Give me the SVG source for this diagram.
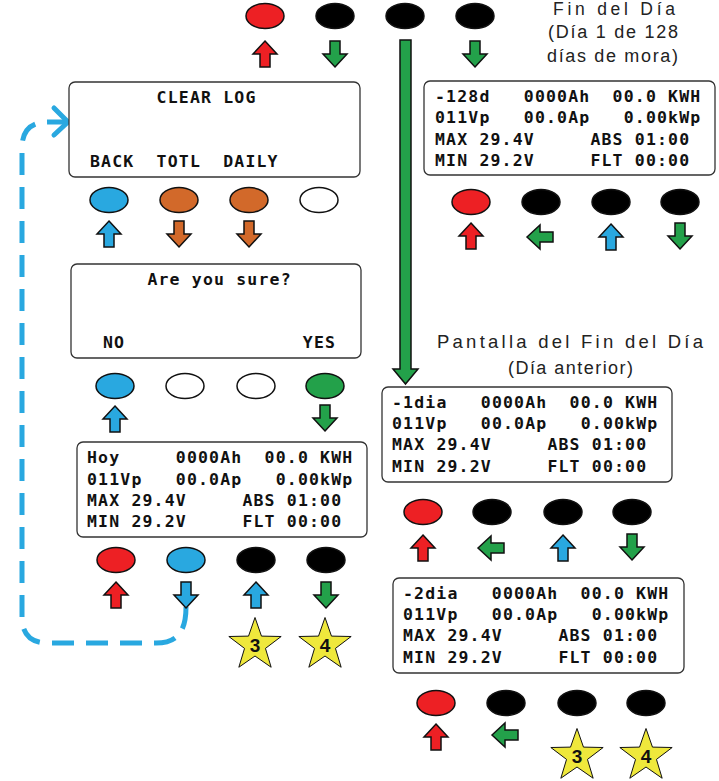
<svg xmlns="http://www.w3.org/2000/svg" xmlns:xlink="http://www.w3.org/1999/xlink" width="719" height="781" viewBox="0 0 719 781">
<style>
.lcd{fill:#fff;stroke:#333;stroke-width:1.3}
.t{font-family:"DejaVu Sans Mono","Liberation Mono",monospace;font-weight:bold;font-size:16.5px;letter-spacing:1.17px;fill:#111}
.lbl{font-family:"Liberation Sans",Arial,sans-serif;fill:#222}
.btn{stroke:#111;stroke-width:1.5}
.ar{stroke:#111;stroke-width:1.5;stroke-linejoin:miter}
.red{fill:#ED2024}.blk{fill:#000}.blu{fill:#29A8E0}.grn{fill:#23A14A}.org{fill:#D2692A}.wht{fill:#fff}
.star{fill:#EFE83C;stroke:#111;stroke-width:1}
.num{font-family:"Liberation Sans",Arial,sans-serif;font-weight:bold;font-size:19px;text-anchor:middle;fill:#111}
</style>
<defs>
<path id="up" d="M0,-13 L12,0 L5,0 L5,13 L-5,13 L-5,0 L-12,0 Z"/>
<path id="dn" d="M0,13 L12,0 L5,0 L5,-13 L-5,-13 L-5,0 L-12,0 Z"/>
<path id="lf" d="M-13,0 L0,-12 L0,-5 L13,-5 L13,5 L0,5 L0,12 Z"/>
<polygon id="star" points="0,-27.5 6.47,-8.9 26.16,-8.5 10.46,3.4 16.16,22.25 0,11 -16.16,22.25 -10.46,3.4 -26.16,-8.5 -6.47,-8.9"/>
</defs>

<g id="connectors">
<path d="M186,607 C186,633 176,643 156,643 L48,643 Q22,643 22,617 L22,148 Q22,122 48,122 L67,122" fill="none" stroke="#29A8E0" stroke-width="5" stroke-dasharray="22 12"/>
<polyline points="54,108 68,122 54,135" fill="none" stroke="#29A8E0" stroke-width="5" stroke-linecap="round" stroke-linejoin="round"/>
<path d="M400,40 L411,40 L411,369 L418,369 L405.5,384 L393,369 L400,369 Z" fill="#23A14A" stroke="#111" stroke-width="1.5"/>
</g>

<g id="top-buttons">
<ellipse class="btn red" cx="265" cy="16" rx="19" ry="12.5"/>
<ellipse class="btn blk" cx="335" cy="16" rx="19" ry="12.5"/>
<ellipse class="btn blk" cx="405" cy="16" rx="19" ry="12.5"/>
<ellipse class="btn blk" cx="475" cy="16" rx="19" ry="12.5"/>
<use href="#up" class="ar red" x="265" y="54"/>
<use href="#dn" class="ar grn" x="335" y="54"/>
<use href="#dn" class="ar grn" x="475" y="54"/>
</g>

<g id="label-top">
<text class="lbl" x="553" y="15" font-size="17.5" textLength="122" lengthAdjust="spacing">Fin del Día</text>
<text class="lbl" x="548" y="38" font-size="18" textLength="130" lengthAdjust="spacing">(Día 1 de 128</text>
<text class="lbl" x="547" y="62" font-size="18" textLength="131" lengthAdjust="spacing">días de mora)</text>
</g>

<g id="label-mid">
<text class="lbl" x="437" y="348" font-size="18.5" textLength="266" lengthAdjust="spacing">Pantalla del Fin del Día</text>
<text class="lbl" x="508" y="374" font-size="18" textLength="125" lengthAdjust="spacing">(Día anterior)</text>
</g>

<g id="clear-log">
<rect class="lcd" x="69" y="82" width="291" height="95" rx="6"/>
<text class="t" y="103"><tspan x="156.6">CLEAR LOG</tspan></text>
<text class="t" y="167"><tspan x="90">BACK</tspan><tspan x="156.6">TOTL</tspan><tspan x="223.2">DAILY</tspan></text>
<ellipse class="btn blu" cx="109" cy="200" rx="19" ry="12.5"/>
<ellipse class="btn org" cx="179" cy="200" rx="19" ry="12.5"/>
<ellipse class="btn org" cx="249" cy="200" rx="19" ry="12.5"/>
<ellipse class="btn wht" cx="319" cy="200" rx="19" ry="12.5"/>
<use href="#up" class="ar blu" x="109" y="234"/>
<use href="#dn" class="ar org" x="179" y="234"/>
<use href="#dn" class="ar org" x="249" y="234"/>
</g>

<g id="are-you-sure">
<rect class="lcd" x="71" y="264" width="290" height="94" rx="6"/>
<text class="t" y="285"><tspan x="147.4">Are you sure?</tspan></text>
<text class="t" y="348"><tspan x="103">NO</tspan><tspan x="302.8">YES</tspan></text>
<ellipse class="btn blu" cx="115" cy="386" rx="19" ry="12.5"/>
<ellipse class="btn wht" cx="185" cy="386" rx="19" ry="12.5"/>
<ellipse class="btn wht" cx="256" cy="386" rx="19" ry="12.5"/>
<ellipse class="btn grn" cx="325" cy="386" rx="19" ry="12.5"/>
<use href="#up" class="ar blu" x="115" y="419"/>
<use href="#dn" class="ar grn" x="325" y="418"/>
</g>

<g id="hoy">
<rect class="lcd" x="77" y="442" width="290" height="95" rx="6"/>
<text class="t" y="463"><tspan x="87">Hoy</tspan><tspan x="175.8">0000Ah</tspan><tspan x="264.6">00.0 KWH</tspan></text>
<text class="t" y="484.5"><tspan x="87">011Vp</tspan><tspan x="175.8">00.0Ap</tspan><tspan x="275.7">0.00kWp</tspan></text>
<text class="t" y="506"><tspan x="87">MAX 29.4V</tspan><tspan x="242.4">ABS 01:00</tspan></text>
<text class="t" y="527"><tspan x="87">MIN 29.2V</tspan><tspan x="242.4">FLT 00:00</tspan></text>
<ellipse class="btn red" cx="116" cy="560" rx="19" ry="12.5"/>
<ellipse class="btn blu" cx="186" cy="560" rx="19" ry="12.5"/>
<ellipse class="btn blk" cx="256" cy="560" rx="19" ry="12.5"/>
<ellipse class="btn blk" cx="326" cy="560" rx="19" ry="12.5"/>
<use href="#up" class="ar red" x="116" y="595"/>
<use href="#dn" class="ar blu" x="186" y="595"/>
<use href="#up" class="ar blu" x="256" y="595"/>
<use href="#dn" class="ar grn" x="326" y="595"/>
<use href="#star" class="star" x="255" y="645"/>
<text class="num" x="255" y="652">3</text>
<use href="#star" class="star" x="325" y="645"/>
<text class="num" x="325" y="652">4</text>
</g>

<g id="dia-128">
<rect class="lcd" x="424" y="81" width="291" height="94" rx="6"/>
<text class="t" y="102"><tspan x="435">-128d</tspan><tspan x="523.8">0000Ah</tspan><tspan x="612.6">00.0 KWH</tspan></text>
<text class="t" y="123.3"><tspan x="435">011Vp</tspan><tspan x="523.8">00.0Ap</tspan><tspan x="623.7">0.00kWp</tspan></text>
<text class="t" y="144.6"><tspan x="435">MAX 29.4V</tspan><tspan x="590.4">ABS 01:00</tspan></text>
<text class="t" y="166"><tspan x="435">MIN 29.2V</tspan><tspan x="590.4">FLT 00:00</tspan></text>
<ellipse class="btn red" cx="471" cy="202" rx="19" ry="12.5"/>
<ellipse class="btn blk" cx="541" cy="202" rx="19" ry="12.5"/>
<ellipse class="btn blk" cx="611" cy="202" rx="19" ry="12.5"/>
<ellipse class="btn blk" cx="680" cy="202" rx="19" ry="12.5"/>
<use href="#up" class="ar red" x="471" y="236"/>
<use href="#lf" class="ar grn" x="540" y="237"/>
<use href="#up" class="ar blu" x="611" y="237"/>
<use href="#dn" class="ar grn" x="680" y="236"/>
</g>

<g id="dia-1">
<rect class="lcd" x="382" y="387" width="290" height="95" rx="6"/>
<text class="t" y="407.5"><tspan x="392">-1dia</tspan><tspan x="480.8">0000Ah</tspan><tspan x="569.6">00.0 KWH</tspan></text>
<text class="t" y="429"><tspan x="392">011Vp</tspan><tspan x="480.8">00.0Ap</tspan><tspan x="580.7">0.00kWp</tspan></text>
<text class="t" y="450.3"><tspan x="392">MAX 29.4V</tspan><tspan x="547.4">ABS 01:00</tspan></text>
<text class="t" y="471.5"><tspan x="392">MIN 29.2V</tspan><tspan x="547.4">FLT 00:00</tspan></text>
<ellipse class="btn red" cx="423" cy="512" rx="19" ry="12.5"/>
<ellipse class="btn blk" cx="492" cy="512" rx="19" ry="12.5"/>
<ellipse class="btn blk" cx="563" cy="512" rx="19" ry="12.5"/>
<ellipse class="btn blk" cx="632" cy="512" rx="19" ry="12.5"/>
<use href="#up" class="ar red" x="423" y="548"/>
<use href="#lf" class="ar grn" x="491" y="548"/>
<use href="#up" class="ar blu" x="563" y="548"/>
<use href="#dn" class="ar grn" x="632" y="547"/>
</g>

<g id="dia-2">
<rect class="lcd" x="393" y="578" width="291" height="95" rx="6"/>
<text class="t" y="598.5"><tspan x="403">-2dia</tspan><tspan x="491.8">0000Ah</tspan><tspan x="580.6">00.0 KWH</tspan></text>
<text class="t" y="620"><tspan x="403">011Vp</tspan><tspan x="491.8">00.0Ap</tspan><tspan x="591.7">0.00kWp</tspan></text>
<text class="t" y="641.3"><tspan x="403">MAX 29.4V</tspan><tspan x="558.4">ABS 01:00</tspan></text>
<text class="t" y="662.5"><tspan x="403">MIN 29.2V</tspan><tspan x="558.4">FLT 00:00</tspan></text>
<ellipse class="btn red" cx="436" cy="703" rx="19" ry="12.5"/>
<ellipse class="btn blk" cx="506" cy="703" rx="19" ry="12.5"/>
<ellipse class="btn blk" cx="577" cy="703" rx="19" ry="12.5"/>
<ellipse class="btn blk" cx="646" cy="703" rx="19" ry="12.5"/>
<use href="#up" class="ar red" x="436" y="737"/>
<use href="#lf" class="ar grn" x="505" y="735"/>
<use href="#star" class="star" x="577" y="756"/>
<text class="num" x="577" y="763">3</text>
<use href="#star" class="star" x="646" y="756"/>
<text class="num" x="646" y="763">4</text>
</g>
</svg>
